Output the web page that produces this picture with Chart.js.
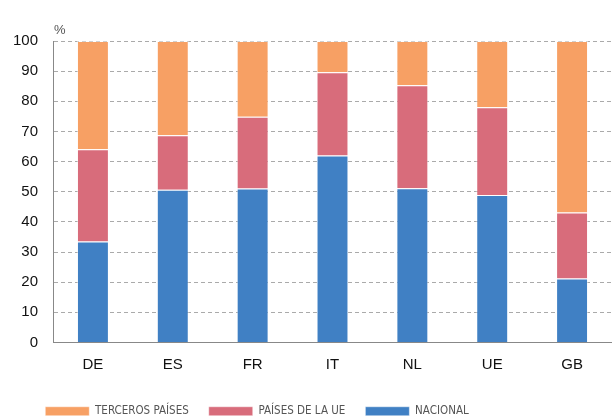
<!DOCTYPE html>
<html lang="es">
<head>
    <meta charset="UTF-8">
    <title>Origen por país</title>
    <script src="https://cdn.jsdelivr.net/npm/chart.js"></script>
    <style>
        html, body { margin: 0; padding: 0; background: #fff; }
        .chart-box { position: relative; width: 612px; height: 418px; }
    </style>
</head>
<body>
    <div class="chart-box">
        <canvas id="grafico"></canvas>
    </div>

    <script>
        // Datos del gráfico (%)
        const paises = ['DE', 'ES', 'FR', 'IT', 'NL', 'UE', 'GB'];
        const nacional = [33.5, 50.7, 51.1, 62.0, 51.2, 48.9, 21.2];
        const paisesUE = [30.6, 18.0, 23.8, 27.6, 34.1, 29.1, 21.9];
        const terceros = [35.9, 31.3, 25.1, 10.4, 14.7, 22.0, 56.9];
        const ticksY = [0, 10, 20, 30, 40, 50, 60, 70, 80, 90, 100];

        // Etiqueta "%" encima del eje
        const etiquetaPct = {
            id: 'etiquetaPct',
            afterDraw(chart) {
                const ctx = chart.ctx;
                ctx.save();
                ctx.font = '13px "Liberation Sans", Arial, sans-serif';
                ctx.fillStyle = '#555';
                ctx.textAlign = 'left';
                ctx.fillText('%', chart.chartArea.left + 1, chart.chartArea.top - 11);
                ctx.restore();
            }
        };

        // Coloca la leyenda: más abajo y algo desplazada a la izquierda
        const leyendaAbajo = {
            id: 'leyendaAbajo',
            beforeInit(chart) {
                const fit = chart.legend.fit;
                chart.legend.fit = function () {
                    fit.call(this);
                    this.height -= 9;
                };
            },
            afterLayout(chart) {
                chart.legend.left -= 49;
                chart.legend.right -= 49;
            }
        };

        new Chart(document.getElementById('grafico').getContext('2d'), {
            type: 'bar',
            data: {
                labels: paises,
                datasets: [
                    { label: 'NACIONAL', data: nacional, backgroundColor: '#4080c4' },
                    { label: 'PAÍSES DE LA UE', data: paisesUE, backgroundColor: '#d86c7b' },
                    { label: 'TERCEROS PAÍSES', data: terceros, backgroundColor: '#f7a064' }
                ].map(d => Object.assign(d, {
                    borderColor: 'rgba(255,255,255,0.45)',
                    borderWidth: 1,
                    categoryPercentage: 1,
                    barPercentage: 0.4
                }))
            },
            options: {
                responsive: true,
                maintainAspectRatio: false,
                animation: false,
                layout: { padding: { top: 41, right: 0, left: 0, bottom: 0 } },
                plugins: {
                    tooltip: { enabled: false },
                    legend: {
                        position: 'bottom',
                        reverse: true,
                        labels: {
                            boxWidth: 44,
                            boxHeight: 9,
                            padding: 20,
                            color: '#555',
                            font: { family: '"DejaVu Sans Condensed", "Liberation Sans", sans-serif', size: 11.5 }
                        }
                    }
                },
                scales: {
                    x: {
                        stacked: true,
                        afterFit(s) { s.height = 43; },
                        grid: { display: false, drawTicks: false },
                        border: { color: '#888', width: 1 },
                        ticks: {
                            color: '#111',
                            padding: 13,
                            font: { family: '"Liberation Sans", Arial, sans-serif', size: 15 }
                        }
                    },
                    y: {
                        stacked: true,
                        min: 0,
                        max: 100,
                        afterFit(s) { s.width = 53; },
                        afterBuildTicks(s) { s.ticks = ticksY.map(v => ({ value: v })); },
                        grid: { color: '#aaa', lineWidth: 1, drawTicks: false },
                        border: { color: '#888', width: 1, dash: [4, 3] },
                        ticks: {
                            color: '#111',
                            padding: 15,
                            font: { family: '"Liberation Sans", Arial, sans-serif', size: 15 }
                        }
                    }
                }
            },
            plugins: [etiquetaPct, leyendaAbajo]
        });
    </script>
</body>
</html>
